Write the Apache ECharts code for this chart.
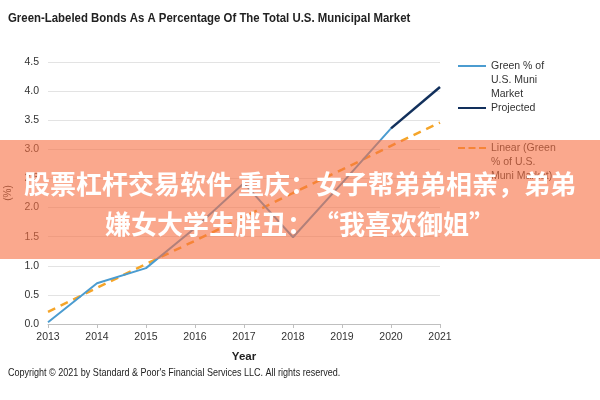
<!DOCTYPE html>
<html>
<head>
<meta charset="utf-8">
<script src="https://cdn.jsdelivr.net/npm/echarts@6/dist/echarts.min.js"></script>
<style>
html,body{margin:0;padding:0;background:#fff;}
#c{width:600px;height:400px;}
</style>
</head>
<body>
<div id="c"></div>
<script>
const years = ['2013','2014','2015','2016','2017','2018','2019','2020','2021'];
const greenPct = [0.03, 0.70, 0.96, 1.65, 2.42, 1.49, 2.42, 3.36, null];
const projected = [null, null, null, null, null, null, null, 3.36, 4.07];
const linearTrend = [0.21, 0.62, 1.03, 1.43, 1.84, 2.25, 2.65, 3.06, 3.46];
const yTicks = [0, 0.5, 1.0, 1.5, 2.0, 2.5, 3.0, 3.5, 4.0, 4.5];

const FONT = '"Liberation Sans", Arial, sans-serif';
const chart = echarts.init(document.getElementById('c'));
const legendBase = {
  orient: 'vertical', left: 458, itemWidth: 28, itemHeight: 2.5, itemGap: 0, padding: 0,
  textStyle: {fontFamily: FONT, fontSize: 10.5, color: '#333', lineHeight: 14},
  selectedMode: false
};
const solidIcon = 'path://M0,0h28v2h-28z';
const dashIcon = 'path://M0,0h7v2h-7z M10.5,0h7v2h-7z M21,0h7v2h-7z';
chart.setOption({
  animation: false,
  legend: [
    Object.assign({}, legendBase, {top: 31, formatter: n => '\n\n' + n,
      data: [{name: 'Green % of\nU.S. Muni\nMarket', icon: solidIcon}]}),
    Object.assign({}, legendBase, {top: 101, data: [{name: 'Projected', icon: solidIcon}]}),
    Object.assign({}, legendBase, {top: 113, formatter: n => '\n\n' + n,
      data: [{name: 'Linear (Green\n% of U.S.\nMuni Market)', icon: dashIcon}]})
  ],
  grid: {left: 48, right: 160, top: 62, bottom: 76, outerBoundsMode: 'none', containLabel: false},
  xAxis: {
    type: 'category', data: years, boundaryGap: false,
    name: 'Year', nameLocation: 'middle', nameGap: 27,
    nameTextStyle: {fontFamily: FONT, fontSize: 11.5, fontWeight: 'bold', color: '#222'},
    axisLine: {lineStyle: {color: '#bfbfbf', width: 1}},
    axisTick: {show: true, length: 4, lineStyle: {color: '#bfbfbf'}},
    axisLabel: {fontFamily: FONT, fontSize: 10.5, color: '#333', margin: 8},
    splitLine: {show: false}
  },
  yAxis: {
    type: 'value', min: 0, max: 4.5, interval: 0.5,
    name: '(%)', nameLocation: 'middle', nameGap: 35,
    nameTextStyle: {fontFamily: FONT, fontSize: 10, color: '#333'},
    axisLine: {show: false}, axisTick: {show: false},
    axisLabel: {fontFamily: FONT, fontSize: 10.5, color: '#333', margin: 9,
      formatter: v => yTicks.includes(v) ? v.toFixed(1) : ''},
    splitLine: {lineStyle: {color: '#e3e3e3', width: 1}}
  },
  series: [
    {name: 'Green % of\nU.S. Muni\nMarket', type: 'line', data: greenPct, symbol: 'none',
      lineStyle: {color: '#4b9cd0', width: 2}, itemStyle: {color: '#4b9cd0'}, z: 3},
    {name: 'Projected', type: 'line', data: projected, symbol: 'none',
      lineStyle: {color: '#12305c', width: 2.5}, itemStyle: {color: '#12305c'}, z: 4},
    {name: 'Linear (Green\n% of U.S.\nMuni Market)', type: 'line', data: linearTrend, symbol: 'none',
      lineStyle: {color: '#f5a52a', width: 2.5, type: [8, 6]}, itemStyle: {color: '#f5a52a'}, z: 2}
  ],
  graphic: [
    {type: 'text', x: 8, y: 18, scaleX: 0.845, z: 10,
      style: {text: 'Green-Labeled Bonds As A Percentage Of The Total U.S. Municipal Market',
        font: 'bold 13.5px ' + FONT, fill: '#222', verticalAlign: 'middle'}},
    {type: 'text', x: 8, y: 373, scaleX: 0.82, z: 10,
      style: {text: 'Copyright \u00a9 2021 by Standard & Poor\'s Financial Services LLC. All rights reserved.',
        font: '11px ' + FONT, fill: '#222', verticalAlign: 'middle'}},
    {type: 'rect', shape: {x: 0, y: 140, width: 600, height: 119}, z: 100,
      style: {fill: 'rgba(247,110,65,0.6)'}},
    {type: 'text', x: 300, y: 184, z: 101,
      style: {text: '股票杠杆交易软件 重庆：女子帮弟弟相亲，弟弟', fill: '#fff',
        font: 'bold 26px "Noto Sans CJK SC", sans-serif', align: 'center', verticalAlign: 'middle'}},
    {type: 'text', x: 300, y: 224, z: 101,
      style: {text: '嫌女大学生胖丑：“我喜欢御姐”', fill: '#fff',
        font: 'bold 26px "Noto Sans CJK SC", sans-serif', align: 'center', verticalAlign: 'middle'}}
  ]
});
</script>
</body>
</html>
